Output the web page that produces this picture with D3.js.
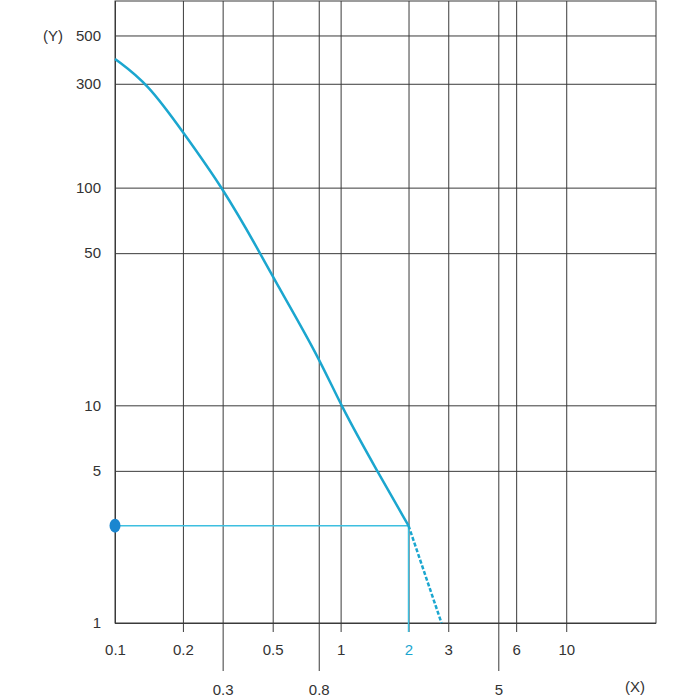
<!doctype html>
<html lang="en">
<head>
  <meta charset="utf-8">
  <title>Log chart</title>
  <script src="https://cdnjs.cloudflare.com/ajax/libs/d3/7.8.5/d3.min.js"></script>
  <style>
    body { margin: 0; background: #fff; }
    text { font-family: "Liberation Sans", Arial, sans-serif; }
  </style>
</head>
<body>
  <div id="my_dataviz"></div>
  <script>

// values
var curveX = [0.1, 0.14, 0.2, 0.3, 0.44, 0.5, 0.8, 1, 1.45, 2];
var curveY = [390, 300, 180, 100, 50, 39, 16.7, 10, 5, 2.8];
var dashX = [2, 2.8];
var dashY = [2.8, 1];
var markX = 2, markY = 2.8;

var yTicks = [1, 5, 10, 50, 100, 300, 500];
var xTicksTop = [0.1, 0.2, 0.5, 1, 2, 3, 6, 10];
var xTicksLow = [0.3, 0.8, 5];

var margin = {top: 1, right: 44, bottom: 77, left: 115},
    width = 700 - margin.left - margin.right,
    height = 700 - margin.top - margin.bottom;

var gridColor = "#3a3a3a",
    blue = "#1ba6cf";

var svg = d3.select("#my_dataviz")
  .append("svg")
    .attr("width", 700)
    .attr("height", 700)
  .append("g")
    .attr("transform", "translate(" + margin.left + "," + margin.top + ")");

var x = d3.scaleLog().domain([0.1, 25]).range([0, width]);
var y = d3.scaleLog().domain([1, 720]).range([height, 0]);

var fmt = function(d) { return String(d); };

// Y axis + horizontal grid
var yAxis = svg.append("g")
  .call(d3.axisLeft(y).tickValues(yTicks).tickFormat(fmt)
    .tickSize(-width).tickPadding(14));
yAxis.select(".domain").remove();
yAxis.selectAll("line").attr("stroke", gridColor);
yAxis.selectAll("text")
  .attr("fill", "#333")
  .style("font-size", "15px");

// X axis, upper label row (short tick below the frame)
var xTop = svg.append("g")
  .attr("transform", "translate(0," + (height + 9) + ")")
  .call(d3.axisBottom(x).tickValues(xTicksTop).tickFormat(fmt)
    .tickSize(-(height + 9)).tickPadding(12));
xTop.select(".domain").remove();
xTop.selectAll("line").attr("stroke", gridColor);
xTop.selectAll("text")
  .attr("fill", function(d) { return d === markX ? blue : "#333"; })
  .style("font-size", "15px");
// the 0.1 line stays at the frame
xTop.selectAll(".tick").filter(function(d) { return d === 0.1; })
  .select("line").attr("y1", -9);

// X axis, lower label row (long tick)
var xLow = svg.append("g")
  .attr("transform", "translate(0," + (height + 48) + ")")
  .call(d3.axisBottom(x).tickValues(xTicksLow).tickFormat(fmt)
    .tickSize(-(height + 48)).tickPadding(13));
xLow.select(".domain").remove();
xLow.selectAll("line").attr("stroke", gridColor);
xLow.selectAll("text")
  .attr("fill", "#333")
  .style("font-size", "15px");

// frame
svg.append("rect")
  .attr("x", 0).attr("y", 0)
  .attr("width", width).attr("height", height)
  .attr("fill", "none")
  .attr("stroke", gridColor);

// axis names
svg.append("text")
  .attr("x", -52).attr("y", y(500))
  .attr("dy", "0.35em")
  .attr("text-anchor", "end")
  .attr("fill", "#333")
  .style("font-size", "15px")
  .text("(Y)");
svg.append("text")
  .attr("x", width - 21).attr("y", height + 64)
  .attr("dy", "0.35em")
  .attr("text-anchor", "middle")
  .attr("fill", "#333")
  .style("font-size", "15px")
  .text("(X)");

// reading guide at x = 2
svg.append("line")
  .attr("x1", x(0.1)).attr("x2", x(markX))
  .attr("y1", y(markY)).attr("y2", y(markY))
  .attr("stroke", "#3dbfe0").attr("stroke-width", 1.5);
svg.append("line")
  .attr("x1", x(markX)).attr("x2", x(markX))
  .attr("y1", y(markY)).attr("y2", height + 9)
  .attr("stroke", "#3dbfe0").attr("stroke-width", 1.5);

// curve
var line = d3.line()
  .x(function(d) { return x(d[0]); })
  .y(function(d) { return y(d[1]); })
  .curve(d3.curveBasis);

svg.append("path")
  .datum(d3.zip(curveX, curveY))
  .attr("d", line)
  .attr("fill", "none")
  .attr("stroke", blue)
  .attr("stroke-width", 2.5);

svg.append("path")
  .datum(d3.zip(dashX, dashY))
  .attr("d", line)
  .attr("fill", "none")
  .attr("stroke", blue)
  .attr("stroke-width", 2.5)
  .attr("stroke-dasharray", "4,2");

// marker on the Y axis
svg.append("ellipse")
  .attr("cx", x(0.1)).attr("cy", y(markY))
  .attr("rx", 5.5).attr("ry", 7)
  .attr("fill", "#1a86d0");

</script>
</body>
</html>
